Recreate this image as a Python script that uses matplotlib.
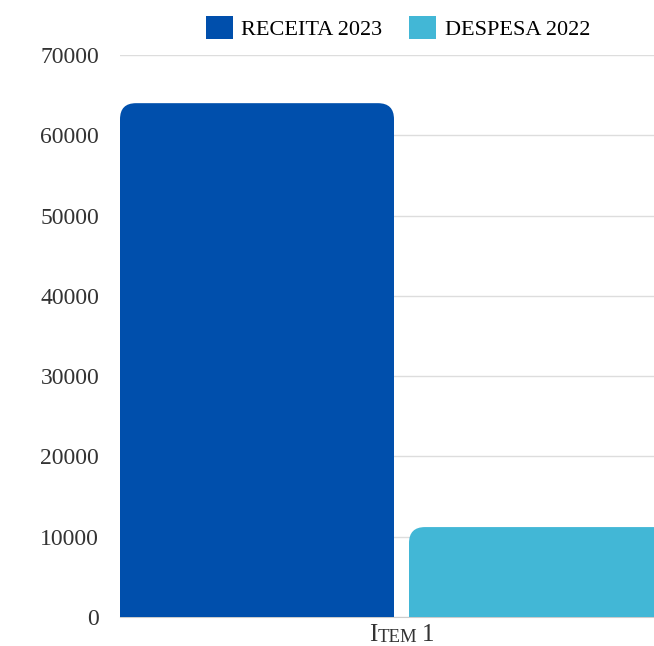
import matplotlib
matplotlib.use("Agg")
import matplotlib.pyplot as plt
from matplotlib.patches import FancyBboxPatch, Patch
from matplotlib.transforms import blended_transform_factory

categories = ["Item 1"]
series_names = ["RECEITA 2023", "DESPESA 2022"]
series_values = [[64000], [11200]]
colors = ["#004fac", "#42b7d6"]
yticks = [0, 10000, 20000, 30000, 40000, 50000, 60000, 70000]

FONT = "Liberation Serif"
W, H = 654, 646
fig = plt.figure(figsize=(W / 100, H / 100), dpi=100)
ax = fig.add_axes([120 / W, 29 / H, 1 - 120 / W, 562 / H])

bar_w = 1.0
gap = 15 / 274
offsets = [-(bar_w + gap) / 2, (bar_w + gap) / 2]
ax.set_xlim(-281.5 / 274, (654 - 401.5) / 274)
ax.set_ylim(0, 70000)

# pixel scales for rounded corners
px_x = 274 / bar_w
px_y = 562 / 70000
r_px = 16
r_x = r_px / px_x
aspect = (r_px / px_y) / r_x

for si, (name, vals) in enumerate(zip(series_names, series_values)):
    for ci, v in enumerate(vals):
        x0 = ci + offsets[si] - bar_w / 2
        y0 = -10000
        p = FancyBboxPatch((x0, y0), bar_w, v - y0,
                           boxstyle=f"round,pad=0,rounding_size={r_x}",
                           mutation_aspect=aspect,
                           facecolor=colors[si], edgecolor="none", zorder=3)
        p.set_clip_on(True)
        ax.add_patch(p)

ax.set_yticks(yticks)
ax.set_yticklabels([str(t) for t in yticks], fontfamily=FONT, fontsize=17, color="#333333")
ax.set_xticks(range(len(categories)))
ax.set_xticklabels([""] * len(categories))
ax.tick_params(axis="both", length=0)
ax.tick_params(axis="y", pad=15)
ax.grid(axis="y", color="#dddddd", linewidth=1, zorder=0)
ax.set_axisbelow(True)
for s in ["top", "right", "left"]:
    ax.spines[s].set_visible(False)
ax.spines["bottom"].set_color("#cccccc")

# small-caps style category labels
trans = blended_transform_factory(ax.transData, fig.transFigure)
for ci, cat in enumerate(categories):
    word, _, num = cat.partition(" ")
    t1 = ax.text(ci - 0.12, 5 / H, word[0].upper(), transform=trans, ha="left", va="baseline",
                 fontfamily=FONT, fontsize=18, color="#333333")
    t2 = ax.annotate(word[1:].upper(), xy=(1, 0), xycoords=t1, xytext=(0.5, 0), textcoords="offset points",
                     ha="left", va="bottom", fontfamily=FONT, fontsize=13.5, color="#333333")
    ax.annotate(num, xy=(1, 0), xycoords=t2, xytext=(3, 0), textcoords="offset points",
                ha="left", va="bottom", fontfamily=FONT, fontsize=18, color="#333333")

handles = [Patch(facecolor=c, edgecolor="none") for c in colors]
fig.legend(handles, series_names, loc="center", bbox_to_anchor=(398 / W, 1 - 28 / H),
           ncol=2, frameon=False, prop={"family": FONT, "size": 16},
           handlelength=1.2, handleheight=1.2, handletextpad=0.4, columnspacing=1.2)

fig.savefig("out.png", dpi=100, facecolor="white")
